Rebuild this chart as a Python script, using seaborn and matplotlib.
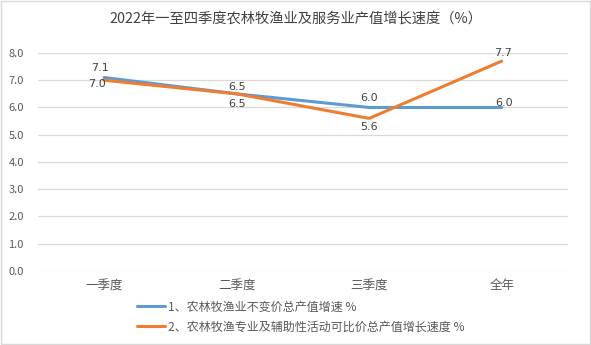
import matplotlib
matplotlib.use("Agg")
import matplotlib.pyplot as plt
import seaborn as sns
import pandas as pd
from matplotlib.patches import Rectangle

categories = ["一季度", "二季度", "三季度", "全年"]
series_names = ["1、农林牧渔业不变价总产值增速 %",
                "2、农林牧渔专业及辅助性活动可比价总产值增长速度 %"]
values_1 = [7.1, 6.5, 6.0, 6.0]
values_2 = [7.0, 6.5, 5.6, 7.7]
title = "2022年一至四季度农林牧渔业及服务业产值增长速度（%）"

sns.set_theme(style="white")
plt.rcParams["font.family"] = ["Noto Sans CJK SC", "DejaVu Sans"]

colors = ["#5B9BD5", "#ED7D31"]
text_color = "#595959"

df = pd.DataFrame({
    "季度": categories * 2,
    "值": values_1 + values_2,
    "系列": [series_names[0]] * 4 + [series_names[1]] * 4,
})

fig = plt.figure(figsize=(5.91, 3.45), dpi=100)
ax = fig.add_axes([0.064, 0.2145, 0.897, 0.632])

sns.lineplot(data=df, x="季度", y="值", hue="系列", palette=colors,
             linewidth=2.2, sort=False, ax=ax, legend=False)

ax.set_xlim(-0.5, 3.5)
ax.set_ylim(0, 8)
ax.set_yticks([i for i in range(9)])
ax.set_yticklabels([f"{i:.1f}" for i in range(9)])
ax.yaxis.grid(True, color="#D9D9D9", linewidth=0.9)
ax.xaxis.grid(False)
for s in ax.spines.values():
    s.set_visible(False)
ax.set_xlabel("")
ax.set_ylabel("")
ax.tick_params(axis="y", labelsize=8, colors=text_color, pad=10, length=0)
ax.tick_params(axis="x", labelsize=9, colors=text_color, pad=6, length=0)
ax.set_xticks(range(len(categories)))
ax.set_xticklabels(categories)

# value labels
offsets_1 = [(-3, 7), (0, 5), (0, 7), (2, 3)]
offsets_2 = [(-5, -3), (0, -7), (0, -6), (1, 6)]
for i, (v, o) in enumerate(zip(values_1, offsets_1)):
    ax.annotate(f"{v:.1f}", (i, v), xytext=o, textcoords="offset points",
                ha="center", va="center", fontsize=8, color="#404040",
                family="DejaVu Sans")
for i, (v, o) in enumerate(zip(values_2, offsets_2)):
    ax.annotate(f"{v:.1f}", (i, v), xytext=o, textcoords="offset points",
                ha="center", va="center", fontsize=8, color="#404040",
                family="DejaVu Sans")

fig.text(0.5, 0.947, title, ha="center", va="center", fontsize=10.3,
         color="#404040")

handles = [plt.Line2D([], [], color=c, linewidth=2.2) for c in colors]
fig.legend(handles, series_names, loc="lower left",
           bbox_to_anchor=(0.224, 0.02), ncol=1, frameon=False,
           fontsize=8.65, labelcolor=text_color, handlelength=2.33,
           handletextpad=0.25, labelspacing=0.55, borderaxespad=0)

fig.patches.append(Rectangle((0.002, 0.003), 0.996, 0.994,
                             transform=fig.transFigure, fill=False,
                             edgecolor="#D9D9D9", linewidth=1))

fig.savefig("out.png", dpi=100)
